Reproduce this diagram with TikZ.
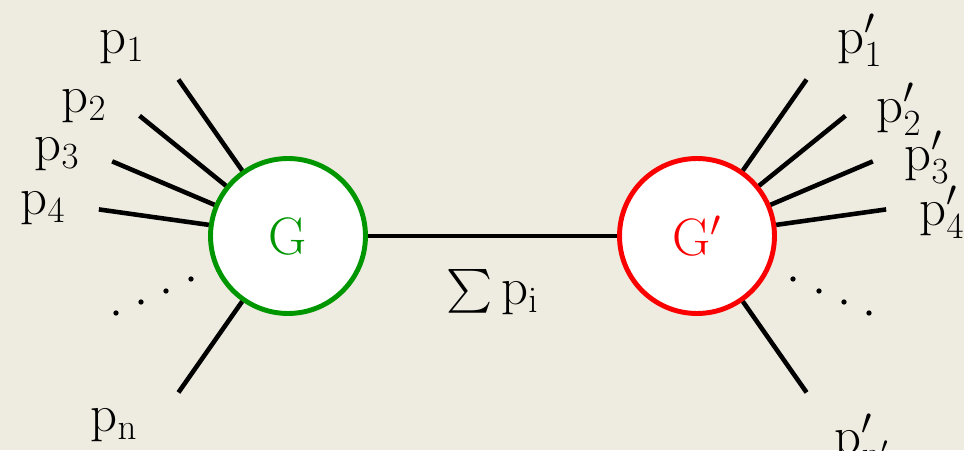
\RequirePackage{fix-cm}
\documentclass[tikz,border=0pt]{standalone}
\usepackage{exscale}
\usetikzlibrary{positioning}
\definecolor{paper}{RGB}{238,235,224}
\definecolor{vgreen}{RGB}{0,150,0}
\definecolor{vred}{RGB}{250,0,0}
\newcommand{\mo}{\mathrm{p}}
\begin{document}
\begin{tikzpicture}[x=0.02cm, y=0.02cm, line width=2.6pt,
    blob/.style = {draw, circle, fill=white, line width=2.8pt, minimum size=3.1cm, inner sep=0pt, font=\fontsize{30}{36}\selectfont},
    mom/.style = {inner sep=0pt, font=\fontsize{30}{36}\selectfont}]
    \useasboundingbox (0,0) rectangle (964,450);
    \fill[paper] (0,0) rectangle (964,450);

    % Nodes
    \node[blob, draw=vgreen, text=vgreen] (G)  at (288,214) {$\mathrm{G}$};
    \node[blob, draw=vred,   text=vred]   (Gp) at (697,214) {$\mathrm{G}'$};

    % Outer ends of the legs
    \foreach \a/\n in {125/1, 141/2, 157/3, 172/4, 235/n}
        \path (G) ++(\a:191) coordinate (l\n);
    \foreach \a/\n in {55/1, 39/2, 23/3, 8/4, -55/n}
        \path (Gp) ++(\a:191) coordinate (r\n);

    % Labels
    \node[mom] (p1) at (122,403) {$\mo_1$};
    \node[mom] (p2) at (84,344)  {$\mo_2$};
    \node[mom] (p3) at (57,296)  {$\mo_3$};
    \node[mom] (p4) at (43,242)  {$\mo_4$};
    \node[mom] (pn) at (114,25)  {$\mo_\mathrm{n}$};
    \node[mom] (q1) at (860,410) {$\mo'_1$};
    \node[mom] (q2) at (899,341) {$\mo'_2$};
    \node[mom] (q3) at (927,293) {$\mo'_3$};
    \node[mom] (q4) at (942,238) {$\mo'_4$};
    \node[mom] (qn) at (862,10)  {$\mo'_{\mathrm{n}'}$};

    % Connections
    \foreach \n in {1,2,3,4,n}
        \draw (G) -- (l\n);
    \foreach \n in {1,2,3,4,n}
        \draw (Gp) -- (r\n);
    \draw (G) -- (Gp) node[mom, midway, below=0.62cm] {$\sum \mo_\mathrm{i}$};

    % Dots
    \foreach \x/\y in {116/137, 141/148, 166/159, 191/171}
        \fill (\x,\y) circle (1.5pt);
    \foreach \x/\y in {869/137, 844/148, 819/159, 793/171}
        \fill (\x,\y) circle (1.5pt);
\end{tikzpicture}
\end{document}
